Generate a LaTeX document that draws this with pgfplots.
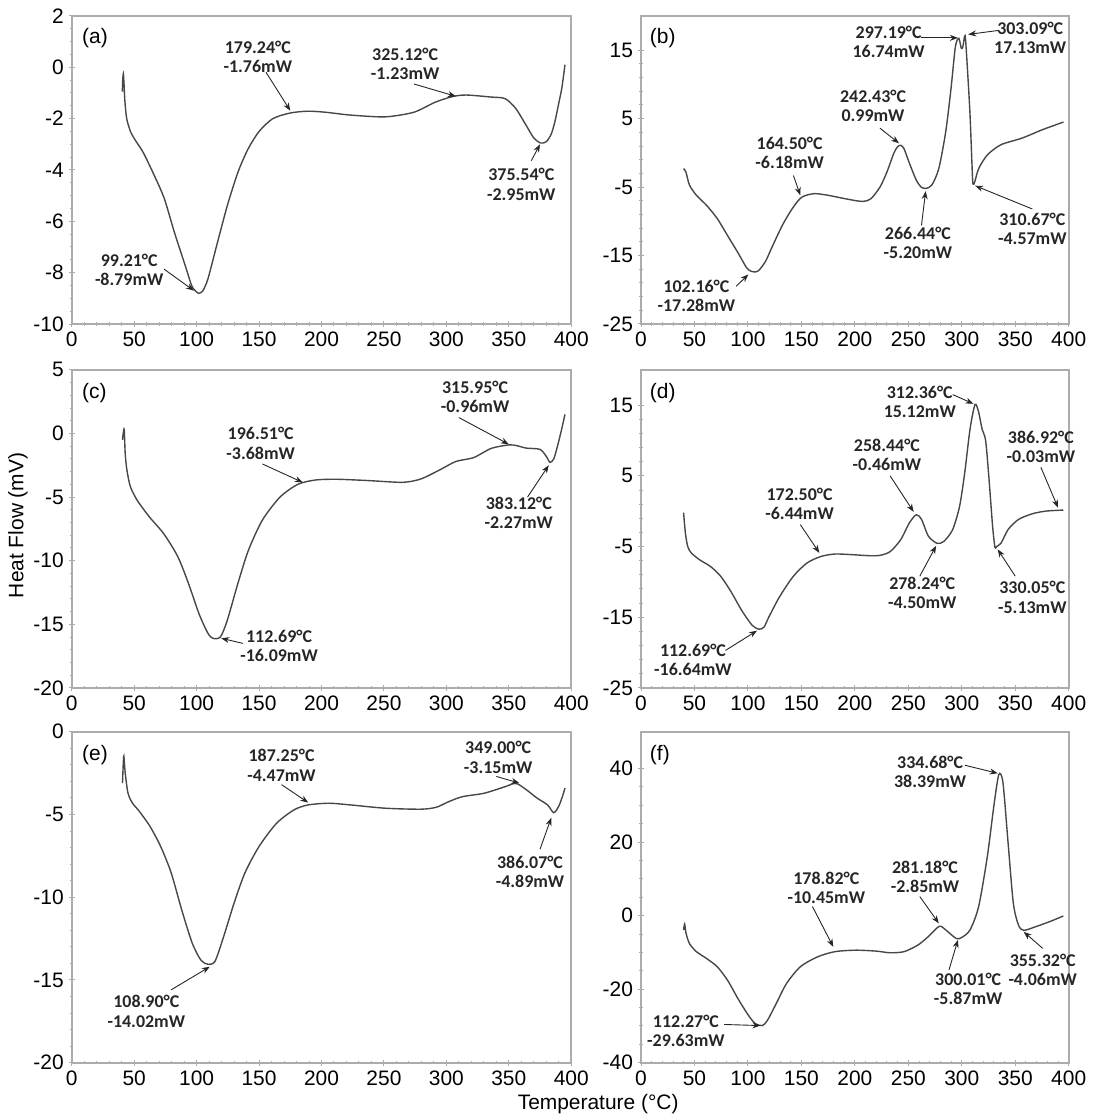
\documentclass[border=0pt]{standalone}
\usepackage{fontspec}
\setmainfont{Liberation Sans}
\newfontfamily\annfont{Carlito}
\usepackage{pgfplots}
\pgfplotsset{compat=1.18}
\usetikzlibrary{arrows.meta}

\newcommand{\ticksize}{\fontsize{10.5}{12}\selectfont}
\tikzset{
  ann/.style={font=\annfont\bfseries\fontsize{9}{9.6}\selectfont, align=center, inner sep=0pt, text=black!85},
  arr/.style={-{Stealth[length=4pt,width=3pt]}, line width=0.45pt, black!85},
}
\pgfplotsset{
  dsc/.style={
    scale only axis, clip=false,
    xmin=0, xmax=400, xtick={0,50,...,400}, minor x tick num=4,
    axis line style={draw=gray!65, line width=0.8pt},
    every tick/.style={draw=gray!65, line width=0.5pt},
    major tick length=3pt, minor tick length=1.6pt,
    tick align=center,
    xtick pos=bottom, ytick pos=left,
    tick label style={font=\ticksize, text=black},
    xticklabel style={yshift=1pt},
    yticklabel style={xshift=1pt},
    /pgf/number format/assume math mode=true,
  },
  curve/.style={draw=black!72, line width=0.7pt, smooth, tension=0.45, no marks},
}

\begin{document}
\begin{tikzpicture}
\path (0,0) rectangle (545.5pt,-560pt);

% (a)
\begin{axis}[dsc, at={(36pt,-8pt)}, anchor=north west, width=250.5pt, height=154.5pt,
  ymin=-10, ymax=2, ytick={-10,-8,...,2}, minor y tick num=3]
\addplot[curve] coordinates {
(40.5,-0.95) (40.8,-0.5) (41.3,-0.25) (41.8,-0.6) (42.5,-1.3) (44,-2.0) (47,-2.5) (51,-2.85) (57,-3.3) (65,-4.1) (74,-5.1) (82,-6.4) (90.7,-7.7) (96,-8.5) (99.2,-8.72) (101.5,-8.8) (104.8,-8.72) (109,-8.25) (116,-6.95) (124.5,-5.4) (133,-4.1) (141,-3.2) (150,-2.5) (161,-2.0) (175,-1.78) (189,-1.71) (203,-1.75) (223,-1.86) (251,-1.93) (274,-1.75) (291,-1.36) (305,-1.14) (316,-1.08) (336,-1.16) (347,-1.22) (355.5,-1.6) (364,-2.27) (370,-2.75) (375.5,-2.95) (380,-2.9) (384,-2.6) (387,-2.1) (390,-1.4) (392.5,-0.8) (395,0.1)
};
\node[anchor=north west, font=\ticksize, inner sep=0pt] at (rel axis cs:0.02,0.96) {(a)};
\node[ann] at (axis cs:46,-7.9) {99.21°C\\-8.79mW};
\draw[arr] (axis cs:73.8,-7.86) -- (axis cs:97.8,-8.7);
\node[ann] at (axis cs:149,0.42) {179.24°C\\-1.76mW};
\draw[arr] (axis cs:155.5,-0.19) -- (axis cs:175,-1.69);
\node[ann] at (axis cs:267,0.14) {325.12°C\\-1.23mW};
\draw[arr] (axis cs:274,-0.65) -- (axis cs:307.6,-1.13);
\node[ann] at (axis cs:360,-4.56) {375.54°C\\-2.95mW};
\draw[arr] (axis cs:368,-3.64) -- (axis cs:375,-3.0);
\end{axis}

% (b)
\begin{axis}[dsc, at={(321.5pt,-8pt)}, anchor=north west, width=214.5pt, height=154.5pt,
  ymin=-25, ymax=20, ytick={-25,-15,...,15}, minor y tick num=4]
\addplot[curve] coordinates {
(39.8,-2.3) (42,-2.8) (45.3,-4.7) (51.8,-6.2) (61.5,-7.7) (71.3,-9.6) (81,-12.1) (90.7,-14.6) (98.8,-16.8) (103,-17.3) (106,-17.4) (110,-17.2) (116.6,-15.8) (123,-13.6) (132.8,-10.4) (142.5,-7.9) (150.6,-6.45) (162,-5.96) (175,-6.2) (191,-6.7) (207,-7.1) (215,-6.7) (223.5,-5.0) (230,-2.8) (236.4,-0.06) (240,0.9) (243,1.1) (246,0.6) (251,-1.5) (257.5,-4.0) (262,-5.0) (266.4,-5.2) (272,-4.7) (278.5,-2.3) (285,3.1) (290,9.5) (294,15.5) (297.2,16.74) (299.5,15.3) (301,15.5) (303.1,17.13) (305,13) (307.7,5.6) (310,-3.5) (310.7,-4.57) (312,-4.3) (315.8,-2.3) (323.9,-0.3) (336.8,1.2) (356.3,2.15) (375.7,3.4) (395.1,4.5)
};
\node[anchor=north west, font=\ticksize, inner sep=0pt] at (rel axis cs:0.02,0.96) {(b)};
\node[ann] at (axis cs:231.6,16.2) {297.19°C\\16.74mW};
\draw[arr] (axis cs:262,16.8) -- (axis cs:296.4,16.8);
\node[ann] at (axis cs:364,16.85) {303.09°C\\17.13mW};
\draw[arr] (axis cs:335,17.9) -- (axis cs:306,17.3);
\node[ann] at (axis cs:217,6.9) {242.43°C\\0.99mW};
\draw[arr] (axis cs:223.5,3.6) -- (axis cs:241.3,1.4);
\node[ann] at (axis cs:139,0.05) {164.50°C\\-6.18mW};
\draw[arr] (axis cs:142.5,-3.3) -- (axis cs:149,-6.2);
\node[ann] at (axis cs:51.8,-20.95) {102.16°C\\-17.28mW};
\draw[arr] (axis cs:89,-19.5) -- (axis cs:100.4,-17.75);
\node[ann] at (axis cs:259,-13.1) {266.44°C\\-5.20mW};
\draw[arr] (axis cs:262.3,-10.6) -- (axis cs:266.2,-5.6);
\node[ann] at (axis cs:366,-11.1) {310.67°C\\-4.57mW};
\draw[arr] (axis cs:366,-8.2) -- (axis cs:312.5,-4.8);
\end{axis}

% (c)
\begin{axis}[dsc, at={(36pt,-185.5pt)}, anchor=north west, width=250.5pt, height=159.5pt,
  ymin=-20, ymax=5, ytick={-20,-15,...,5}, minor y tick num=4]
\addplot[curve] coordinates {
(40.6,-0.5) (41.2,0.0) (42,0.3) (42.8,-1.6) (44.2,-2.9) (47,-4.2) (52.7,-5.3) (62.5,-6.6) (73.8,-7.9) (85,-9.7) (93.5,-11.8) (102,-14.2) (109,-15.7) (113,-16.1) (119,-16.0) (124.5,-14.7) (133,-11.8) (141.4,-9.2) (152.7,-6.8) (166.8,-5.0) (181,-4.0) (195,-3.66) (212,-3.6) (237,-3.7) (265,-3.84) (279.5,-3.58) (293.6,-2.92) (307.7,-2.2) (321.8,-1.9) (336,-1.17) (350,-0.9) (356,-0.95) (364,-1.15) (375,-1.25) (380,-1.8) (383,-2.27) (386,-2.0) (389,-1.0) (392,0.2) (395,1.5)
};
\node[anchor=north west, font=\ticksize, inner sep=0pt] at (rel axis cs:0.02,0.96) {(c)};
\node[ann] at (axis cs:151.3,-0.78) {196.51°C\\-3.68mW};
\draw[arr] (axis cs:152.7,-2.4) -- (axis cs:185,-3.85);
\node[ann] at (axis cs:323,2.9) {315.95°C\\-0.96mW};
\draw[arr] (axis cs:310,1.25) -- (axis cs:350,-0.85);
\node[ann] at (axis cs:358,-6.25) {383.12°C\\-2.27mW};
\draw[arr] (axis cs:365,-5.0) -- (axis cs:382,-2.5);
\node[ann] at (axis cs:166,-16.7) {112.69°C\\-16.09mW};
\draw[arr] (axis cs:137,-16.5) -- (axis cs:119.7,-16.1);
\end{axis}

% (d)
\begin{axis}[dsc, at={(321.5pt,-185.5pt)}, anchor=north west, width=214.5pt, height=159.5pt,
  ymin=-25, ymax=20, ytick={-25,-15,...,15}, minor y tick num=4]
\addplot[curve] coordinates {
(39.8,-0.2) (41.5,-3.1) (43.7,-5.0) (47,-5.9) (55,-6.9) (64.8,-7.8) (74.5,-9.2) (84.2,-11.4) (94,-14) (103.7,-16.1) (110.1,-16.7) (115,-16.4) (119.8,-14.9) (129.6,-12.1) (142.5,-9.2) (155.5,-7.3) (168.4,-6.4) (181.4,-6.06) (197.6,-6.15) (213.8,-6.3) (223.5,-6.25) (233.2,-5.7) (243,-4.0) (251,-1.64) (257.5,-0.5) (262.4,-1.17) (268.8,-3.54) (277,-4.55) (283.4,-4.25) (291.5,-2.6) (298,0.73) (302.8,5.5) (307.7,11.6) (312.4,15.12) (315.8,14) (319,11.6) (322.3,10) (325.5,4.5) (328.8,-2.1) (331,-5.1) (332.5,-5.0) (336.8,-4.5) (343.3,-2.6) (353,-1.17) (366,-0.36) (379,0.02) (395,0.16)
};
\node[anchor=north west, font=\ticksize, inner sep=0pt] at (rel axis cs:0.02,0.96) {(d)};
\node[ann] at (axis cs:260.7,15.5) {312.36°C\\15.12mW};
\draw[arr] (axis cs:291.5,16.5) -- (axis cs:311,15.2);
\node[ann] at (axis cs:374,9.15) {386.92°C\\-0.03mW};
\draw[arr] (axis cs:374,6.2) -- (axis cs:390,0.5);
\node[ann] at (axis cs:230,7.95) {258.44°C\\-0.46mW};
\draw[arr] (axis cs:233,5.0) -- (axis cs:255,-0.1);
\node[ann] at (axis cs:148.3,1.07) {172.50°C\\-6.44mW};
\draw[arr] (axis cs:149,-1.9) -- (axis cs:166.8,-5.9);
\node[ann] at (axis cs:263,-11.55) {278.24°C\\-4.50mW};
\draw[arr] (axis cs:260.7,-9.2) -- (axis cs:276,-4.9);
\node[ann] at (axis cs:366,-12.2) {330.05°C\\-5.13mW};
\draw[arr] (axis cs:350,-9.2) -- (axis cs:333.6,-5.4);
\node[ann] at (axis cs:48.6,-21) {112.69°C\\-16.64mW};
\draw[arr] (axis cs:79,-19.7) -- (axis cs:108.5,-16.9);
\end{axis}

% (e)
\begin{axis}[dsc, at={(36pt,-367pt)}, anchor=north west, width=250.5pt, height=166pt,
  ymin=-20, ymax=0, ytick={-20,-15,...,0}, minor y tick num=4]
\addplot[curve] coordinates {
(40.6,-3.1) (41.2,-2.0) (41.7,-1.47) (42.8,-2.5) (45,-3.7) (48.5,-4.3) (54,-4.8) (62.5,-5.7) (71,-6.9) (79.5,-8.5) (88,-10.75) (96.4,-12.76) (103.4,-13.8) (109,-14.05) (114.7,-13.87) (121.7,-12.36) (130,-10.35) (138.6,-8.54) (150,-6.93) (164,-5.53) (178,-4.72) (189.4,-4.42) (206,-4.32) (223,-4.42) (251,-4.62) (279.5,-4.68) (292,-4.56) (302,-4.22) (313,-3.92) (330,-3.72) (347,-3.32) (353,-3.15) (357,-3.15) (364,-3.5) (372.5,-4.0) (381,-4.42) (386,-4.89) (390,-4.5) (393,-3.9) (395,-3.4)
};
\node[anchor=north west, font=\ticksize, inner sep=0pt] at (rel axis cs:0.02,0.96) {(e)};
\node[ann] at (axis cs:168,-2.03) {187.25°C\\-4.47mW};
\draw[arr] (axis cs:168,-3.2) -- (axis cs:189.4,-4.28);
\node[ann] at (axis cs:341.5,-1.55) {349.00°C\\-3.15mW};
\draw[arr] (axis cs:340,-2.7) -- (axis cs:358.4,-3.1);
\node[ann] at (axis cs:367,-8.45) {386.07°C\\-4.89mW};
\draw[arr] (axis cs:375,-7.1) -- (axis cs:384,-5.2);
\node[ann] at (axis cs:59.7,-16.9) {108.90°C\\-14.02mW};
\draw[arr] (axis cs:79.5,-15.6) -- (axis cs:110.5,-14.2);
\end{axis}

% (f)
\begin{axis}[dsc, at={(321.5pt,-367pt)}, anchor=north west, width=214.5pt, height=166pt,
  ymin=-40, ymax=50, ytick={-40,-20,...,40}, minor y tick num=3]
\addplot[curve] coordinates {
(39.8,-3.9) (40.8,-2.3) (42.1,-4.8) (45.3,-7.6) (51.8,-9.8) (61.5,-11.7) (71.3,-13.9) (81,-17.6) (90.7,-22.6) (100.4,-27.1) (107,-29.4) (113.4,-29.9) (118.2,-28.5) (126.3,-24) (136,-18.5) (149,-13.9) (165.2,-11.2) (181.4,-9.8) (200.8,-9.4) (220,-9.65) (233,-10.1) (246,-9.8) (259,-8.0) (268.7,-5.7) (279,-2.9) (285,-3.9) (294.7,-6.2) (299.6,-6.0) (307.7,-3.9) (315.8,2.5) (323.9,16.1) (330.4,30.7) (334.7,38.4) (338.5,36.2) (343.3,19.8) (348.2,3.4) (353,-2.55) (357.9,-4.0) (369.2,-3.0) (382.2,-1.64) (395,-0.1)
};
\node[anchor=north west, font=\ticksize, inner sep=0pt] at (rel axis cs:0.02,0.96) {(f)};
\node[ann] at (axis cs:270.4,39.05) {334.68°C\\38.39mW};
\draw[arr] (axis cs:302.8,40.9) -- (axis cs:333.6,38.7);
\node[ann] at (axis cs:265.6,10.55) {281.18°C\\-2.85mW};
\draw[arr] (axis cs:260.7,5.2) -- (axis cs:278.5,-2.1);
\node[ann] at (axis cs:173.3,7.65) {178.82°C\\-10.45mW};
\draw[arr] (axis cs:160.3,2.5) -- (axis cs:179.8,-8.5);
\node[ann] at (axis cs:306,-19.85) {300.01°C\\-5.87mW};
\draw[arr] (axis cs:288,-14.8) -- (axis cs:296.4,-6.6);
\node[ann] at (axis cs:375.7,-14.65) {355.32°C\\-4.06mW};
\draw[arr] (axis cs:375.7,-8.9) -- (axis cs:357.9,-4.4);
\node[ann] at (axis cs:42,-31.25) {112.27°C\\-29.63mW};
\draw[arr] (axis cs:77.7,-29.6) -- (axis cs:111.7,-29.9);
\end{axis}

\node[font=\ticksize, rotate=90] at (9pt,-263.5pt) {Heat Flow (mV)};
\node[font=\ticksize] at (300pt,-553.5pt) {Temperature (°C)};
\end{tikzpicture}
\end{document}
